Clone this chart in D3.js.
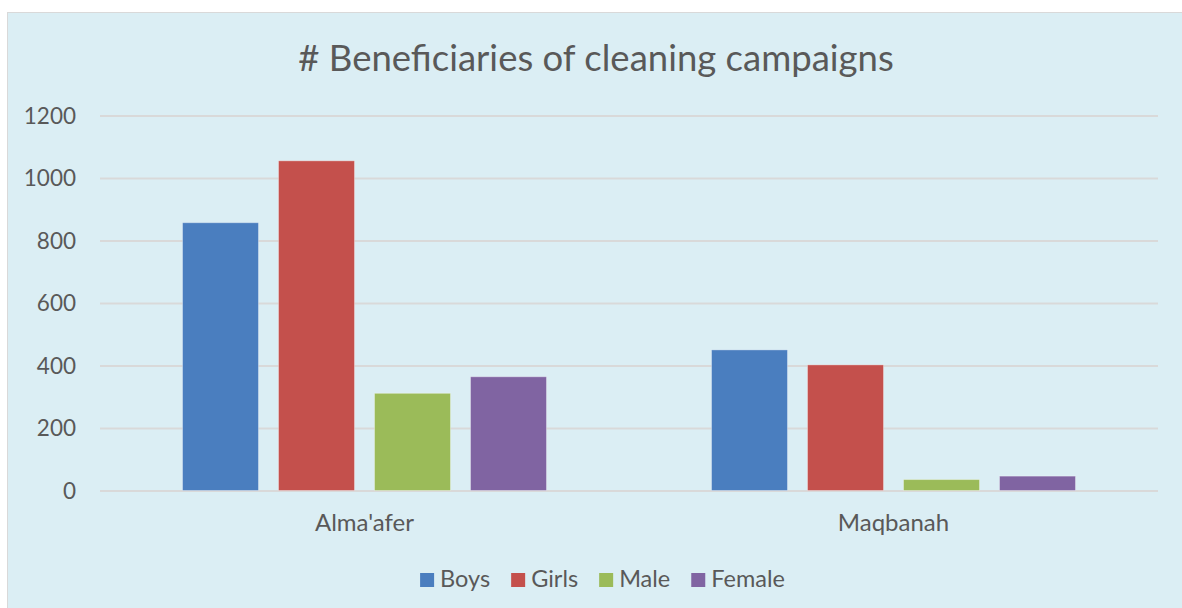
<!DOCTYPE html>
<html>
<head>
<meta charset="utf-8">
<script src="https://cdn.jsdelivr.net/npm/d3@7"></script>
<style>
  html, body { margin: 0; padding: 0; background: #ffffff; }
  svg { display: block; }
  text { font-family: Lato, "Open Sans", sans-serif; }
</style>
</head>
<body>
<svg id="chart" width="1182" height="608"></svg>
<script>
const title = "# Beneficiaries of cleaning campaigns";
const categories = ["Alma'afer", "Maqbanah"];
const seriesNames = ["Boys", "Girls", "Male", "Female"];
const boys = [857, 450];
const girls = [1055, 402];
const male = [311, 35];
const female = [364, 46];
const yTicks = [0, 200, 400, 600, 800, 1000, 1200];
const seriesColors = ["#4A7EBF", "#C4504C", "#9BBB59", "#8064A2"];

const seriesValues = [boys, girls, male, female];
const rows = categories.map((c, i) => ({
  category: c,
  values: seriesNames.map((s, j) => ({ series: s, value: seriesValues[j][i] }))
}));

const svg = d3.select("#chart");
const W = 1182, H = 608;

// chart area background
svg.append("rect")
  .attr("x", 7.5).attr("y", 12.5)
  .attr("width", W + 10).attr("height", H + 10)
  .attr("fill", "#DBEEF4")
  .attr("stroke", "#D9D9D9").attr("stroke-width", 1);

const plot = { left: 100, right: 1158, top: 115.5, bottom: 490.5 };

const y = d3.scaleLinear().domain([0, 1200]).range([plot.bottom, plot.top]);
const x0 = d3.scaleBand().domain(categories)
  .range([plot.left, plot.right])
  .paddingInner(165 / 529).paddingOuter(82.5 / 529);
const x1 = d3.scaleBand().domain(seriesNames)
  .range([0, x0.bandwidth()])
  .paddingInner(20 / 96).paddingOuter(0);
const color = d3.scaleOrdinal().domain(seriesNames).range(seriesColors);

// gridlines + tick labels
const yAxis = d3.axisLeft(y).tickValues(yTicks).tickSize(0).tickPadding(0)
  .tickFormat(d3.format("d"));
const gy = svg.append("g").attr("transform", `translate(${plot.left},0)`).call(yAxis);
gy.select(".domain").remove();
gy.selectAll(".tick text")
  .attr("x", -24)
  .attr("dy", "0.35em")
  .attr("fill", "#595959")
  .style("font-size", "22.5px")
  .style("font-family", "Lato, 'Open Sans', sans-serif");
gy.selectAll(".tick").append("line")
  .attr("x1", 0).attr("x2", plot.right - plot.left)
  .attr("stroke", "#D9D9D9").attr("stroke-width", 2);

// bars
const groups = svg.append("g").selectAll("g")
  .data(rows).join("g")
  .attr("transform", d => `translate(${x0(d.category)},0)`);
groups.selectAll("rect")
  .data(d => d.values).join("rect")
  .attr("x", d => x1(d.series))
  .attr("width", x1.bandwidth())
  .attr("y", d => y(d.value))
  .attr("height", d => y(0) - y(d.value))
  .attr("fill", d => color(d.series))
  .attr("stroke", "rgba(255,255,255,0.35)")
  .attr("stroke-width", 1);

// category axis labels
const xAxis = d3.axisBottom(x0).tickSize(0).tickPadding(0);
const gx = svg.append("g").attr("transform", `translate(0,${plot.bottom})`).call(xAxis);
gx.select(".domain").remove();
gx.selectAll(".tick text")
  .attr("y", 40)
  .attr("dy", 0)
  .attr("fill", "#595959")
  .style("font-size", "24px")
  .style("font-family", "Lato, 'Open Sans', sans-serif");

// title
svg.append("text")
  .attr("x", 596).attr("y", 71)
  .attr("text-anchor", "middle")
  .attr("fill", "#595959")
  .style("font-size", "36.5px")
  .text(title);

// legend
const legend = svg.append("g");
const items = legend.selectAll("g").data(seriesNames).join("g");
items.append("rect")
  .attr("width", 14).attr("height", 14)
  .attr("y", -14)
  .attr("fill", d => color(d));
items.append("text")
  .attr("x", 20).attr("y", 0)
  .attr("fill", "#595959")
  .style("font-size", "23.5px")
  .text(d => d);
let offset = 0;
items.each(function () {
  const g = d3.select(this);
  g.attr("transform", `translate(${offset},0)`);
  const tw = g.select("text").node().getComputedTextLength();
  offset += 20 + tw + 21;
});
const legendWidth = offset - 21;
legend.attr("transform", `translate(${602.5 - legendWidth / 2},587)`);
</script>
</body>
</html>
